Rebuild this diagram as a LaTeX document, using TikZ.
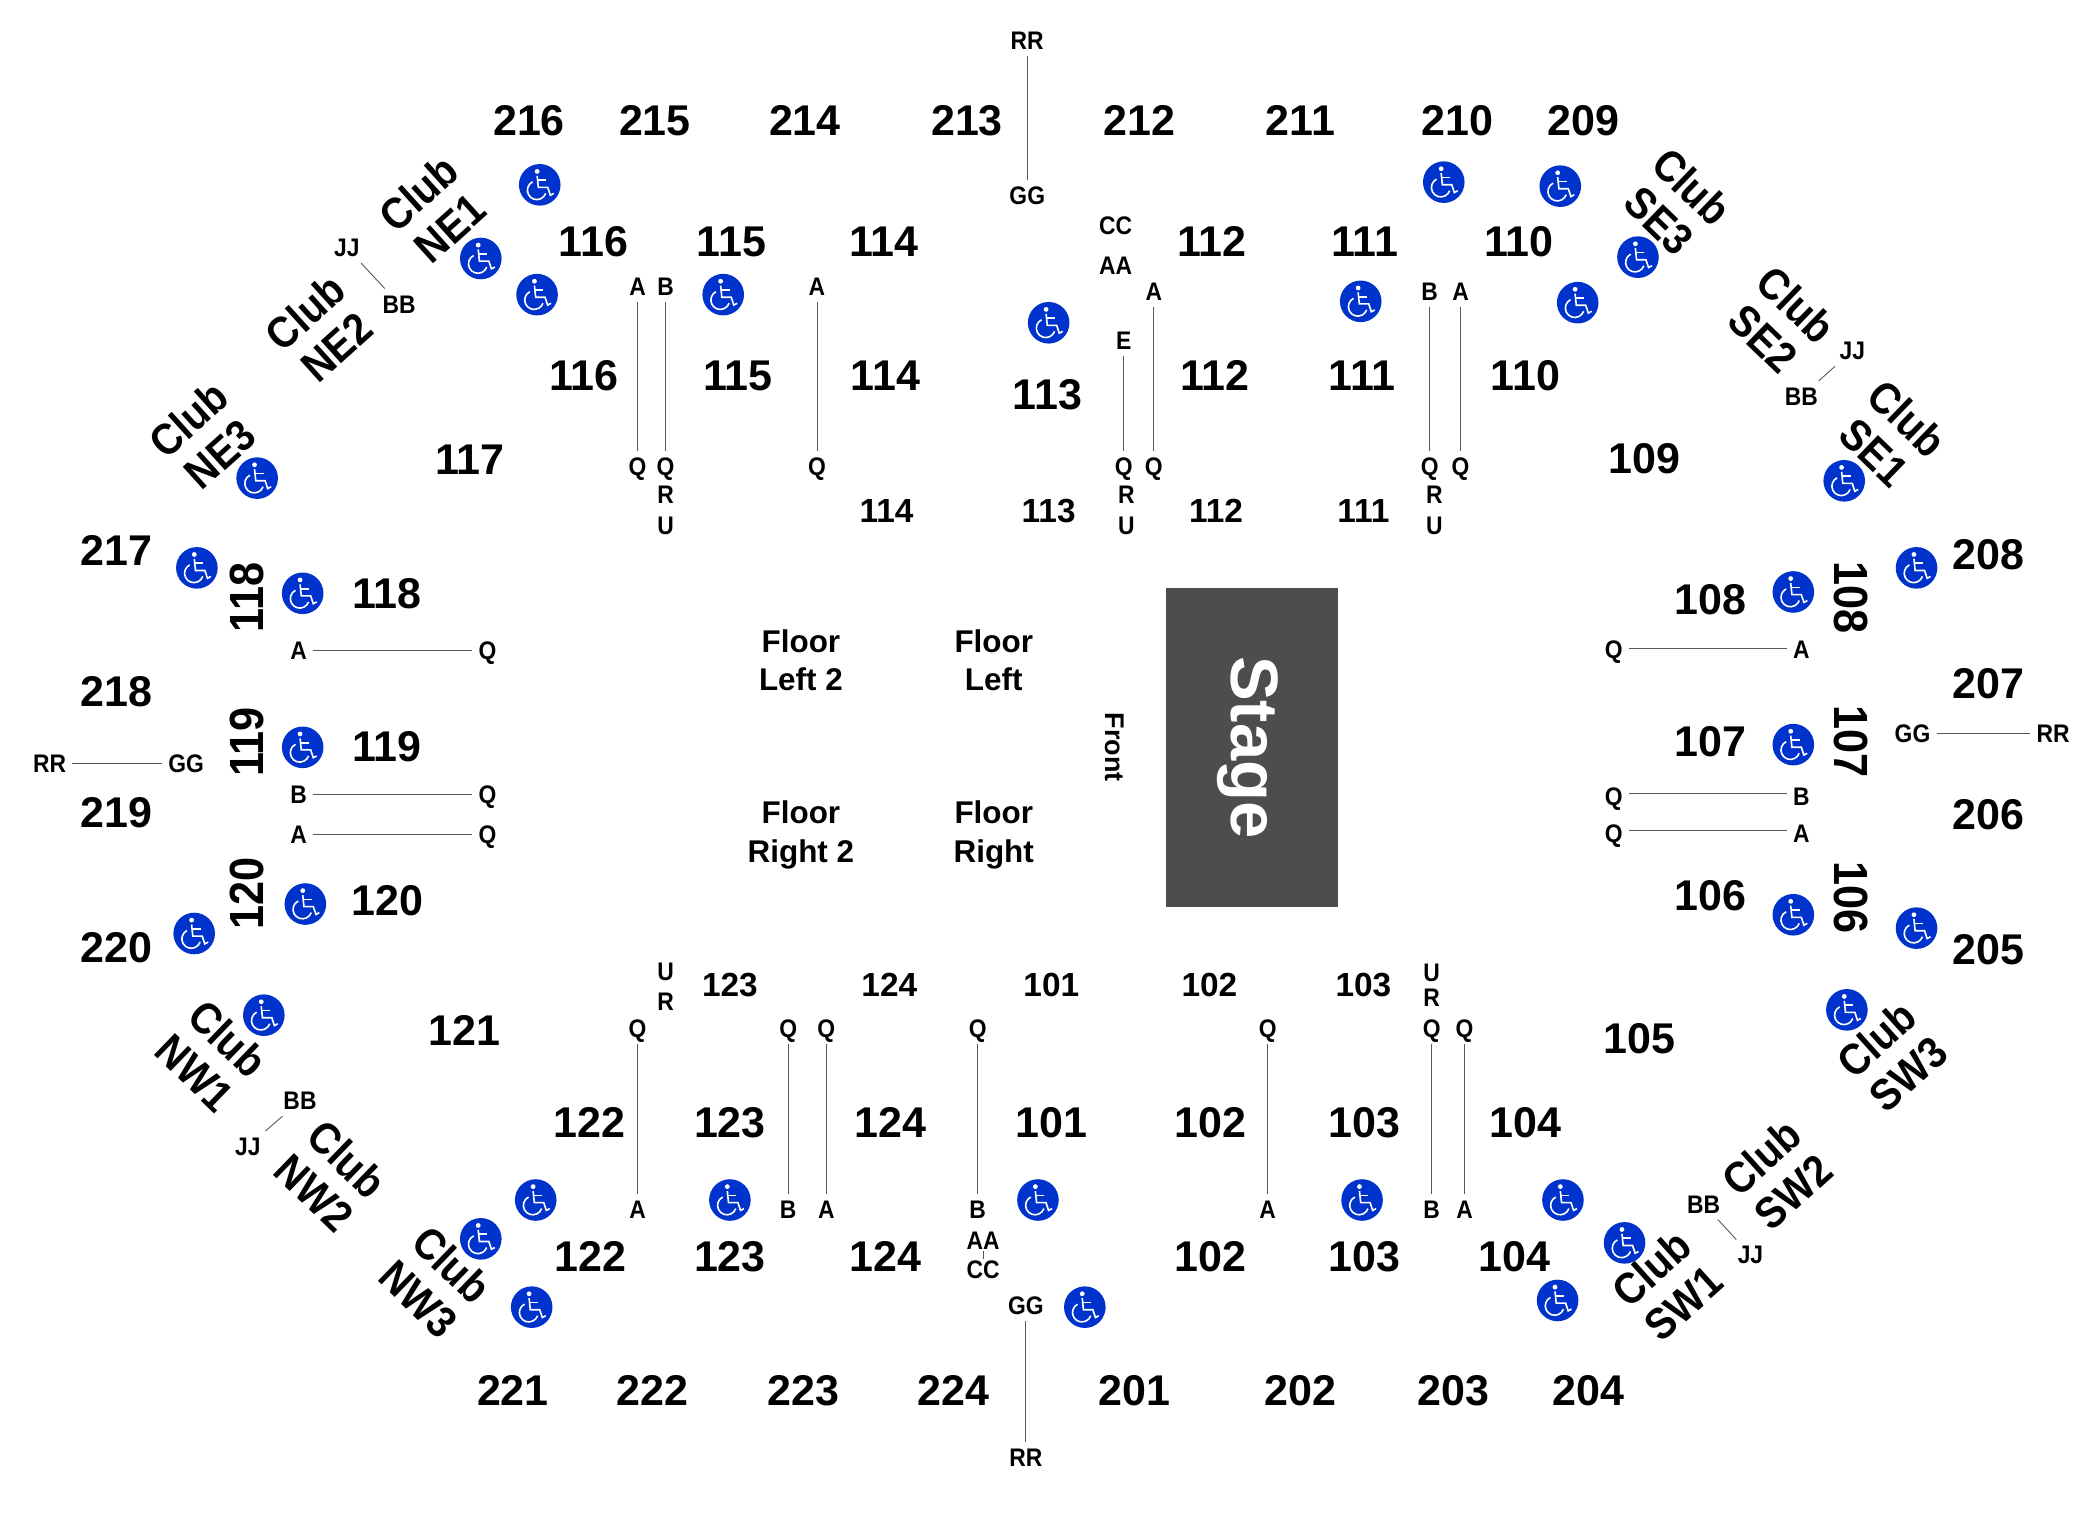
\documentclass[tikz,border=0pt]{standalone}
\usepackage{fontspec}
\setmainfont{Liberation Sans}
\newfontfamily\tallfont[FakeStretch=0.9]{Liberation Sans}
\usepackage{tikz}
\definecolor{wcblue}{HTML}{0033CC}
\definecolor{stagegray}{HTML}{4D4D4D}
\tikzstyle{seclabel} = [inner sep=0pt, text height=15.4pt, text depth=0pt,
    font={\fontsize{21.5}{24}\selectfont\bfseries}]
\tikzstyle{sidesec} = [inner sep=0pt, text height=17.3pt, text depth=0pt,
    font={\tallfont\fontsize{24}{26}\selectfont\bfseries}]
\tikzstyle{smallsec} = [inner sep=0pt, text height=12pt, text depth=0pt,
    font={\fontsize{16.7}{20}\selectfont\bfseries}]
\tikzstyle{club} = [inner sep=0pt, align=center,
    font={\tallfont\fontsize{22}{23.6}\selectfont\bfseries}]
\tikzstyle{floorlabel} = [inner sep=0pt, align=center,
    font={\fontsize{15.7}{19.4}\selectfont\bfseries}]
\tikzstyle{rowlabel} = [inner sep=3pt, text height=9pt, text depth=0pt,
    font={\tallfont\fontsize{12.7}{14}\selectfont\bfseries}]
\tikzstyle{rowline} = [draw, black!65, line width=0.45pt]
\tikzstyle{stagebox} = [rectangle, fill=stagegray, rotate=-90,
    minimum width=159.6pt, minimum height=86pt]
\tikzstyle{stagename} = [text=white, rotate=-90, inner sep=0pt,
    font={\fontsize{33.5}{36}\selectfont\bfseries}]
\tikzstyle{access} = [circle, fill=wcblue, minimum size=20.8pt, inner sep=0pt,
    path picture={
      \begin{scope}[shift={(path picture bounding box.center)}, x=1pt, y=1pt,
          white, line width=0.8pt]
        \fill (-1.3,6.7) circle (1.2);
        \draw (-1.3,4.5) -- (-0.7,-1.3) -- (4,-1.3) -- (5.3,-5.2) -- (7,-4.3);
        \draw (-1.3,2.3) -- (3.2,2.3);
        \draw (-3.6,1.5) arc[start angle=117, end angle=340, radius=4.7];
      \end{scope}
    }]

\begin{document}
\begin{tikzpicture}[x=0.6696pt, y=-0.6696pt]
    \useasboundingbox (0,0) rectangle (1568,1135);

    % Stage
    \node [stagebox] (stage) at (935,558) {};
    \node [stagename] (stagetext) at (932,558) {Stage};
    \node [rowlabel, rotate=-90, font={\fontsize{13.5}{15}\selectfont\bfseries}] (front) at (832,558) {Front};

    % Floor
    \node [floorlabel] (floorL2) at (598,493) {Floor\\Left 2};
    \node [floorlabel] (floorL) at (742,493) {Floor\\Left};
    \node [floorlabel] (floorR2) at (598,623.5) {Floor\\Right 2};
    \node [floorlabel] (floorR) at (742,623.5) {Floor\\Right};

    % Upper level
    \node [seclabel] (s216) at (395,90) {216};
    \node [seclabel] (s215) at (489,90) {215};
    \node [seclabel] (s214) at (601,90) {214};
    \node [seclabel] (s213) at (722,90) {213};
    \node [seclabel] (s212) at (851,90) {212};
    \node [seclabel] (s211) at (971,90) {211};
    \node [seclabel] (s210) at (1088,90) {210};
    \node [seclabel] (s209) at (1182,90) {209};
    \node [seclabel] (s208) at (1485,414) {208};
    \node [seclabel] (s207) at (1485,510) {207};
    \node [seclabel] (s206) at (1485,608) {206};
    \node [seclabel] (s205) at (1485,709) {205};
    \node [seclabel] (s204) at (1186,1038) {204};
    \node [seclabel] (s203) at (1085,1038) {203};
    \node [seclabel] (s202) at (971,1038) {202};
    \node [seclabel] (s201) at (847,1038) {201};
    \node [seclabel] (s224) at (712,1038) {224};
    \node [seclabel] (s223) at (600,1038) {223};
    \node [seclabel] (s222) at (487,1038) {222};
    \node [seclabel] (s221) at (383,1038) {221};
    \node [seclabel] (s220) at (87,707) {220};
    \node [seclabel] (s219) at (87,606) {219};
    \node [seclabel] (s218) at (87,516) {218};
    \node [seclabel] (s217) at (87,411) {217};

    % Lower level, top
    \node [seclabel] (s116a) at (443,180) {116};
    \node [seclabel] (s115a) at (546,180) {115};
    \node [seclabel] (s114a) at (660,180) {114};
    \node [seclabel] (s112a) at (905,180) {112};
    \node [seclabel] (s111a) at (1019,180) {111};
    \node [seclabel] (s110a) at (1134,180) {110};
    \node [seclabel] (s116b) at (436,280) {116};
    \node [seclabel] (s115b) at (551,280) {115};
    \node [seclabel] (s114b) at (661,280) {114};
    \node [seclabel] (s113a) at (782,294) {113};
    \node [seclabel] (s112b) at (907,280) {112};
    \node [seclabel] (s111b) at (1017,280) {111};
    \node [seclabel] (s110b) at (1139,280) {110};
    \node [seclabel] (s117) at (351,343) {117};
    \node [seclabel] (s109) at (1228,342) {109};
    \node [smallsec] (s114c) at (662,381) {114};
    \node [smallsec] (s113b) at (783,381) {113};
    \node [smallsec] (s112c) at (908,381) {112};
    \node [smallsec] (s111c) at (1018,381) {111};

    % Lower level, sides
    \node [sidesec, rotate=90] (s118a) at (184,446) {118};
    \node [seclabel] (s118b) at (289,443) {118};
    \node [sidesec, rotate=90] (s119a) at (184,554) {119};
    \node [seclabel] (s119b) at (289,557) {119};
    \node [sidesec, rotate=90] (s120a) at (184,667) {120};
    \node [seclabel] (s120b) at (289,672) {120};
    \node [seclabel] (s108a) at (1277,447) {108};
    \node [sidesec, rotate=-90] (s108b) at (1383,446) {108};
    \node [seclabel] (s107a) at (1277,553) {107};
    \node [sidesec, rotate=-90] (s107b) at (1383,554) {107};
    \node [seclabel] (s106a) at (1277,668) {106};
    \node [sidesec, rotate=-90] (s106b) at (1383,670) {106};

    % Lower level, bottom
    \node [smallsec] (s123a) at (545,735) {123};
    \node [smallsec] (s124a) at (664,735) {124};
    \node [smallsec] (s101a) at (785,735) {101};
    \node [smallsec] (s102a) at (903,735) {102};
    \node [smallsec] (s103a) at (1018,735) {103};
    \node [seclabel] (s121) at (347,769) {121};
    \node [seclabel] (s105) at (1224,775) {105};
    \node [seclabel] (s122b) at (440,838) {122};
    \node [seclabel] (s123b) at (545,838) {123};
    \node [seclabel] (s124b) at (665,838) {124};
    \node [seclabel] (s101b) at (785,838) {101};
    \node [seclabel] (s102b) at (904,838) {102};
    \node [seclabel] (s103b) at (1019,838) {103};
    \node [seclabel] (s104b) at (1139,838) {104};
    \node [seclabel] (s122c) at (441,938) {122};
    \node [seclabel] (s123c) at (545,938) {123};
    \node [seclabel] (s124c) at (661,938) {124};
    \node [seclabel] (s102c) at (904,938) {102};
    \node [seclabel] (s103c) at (1019,938) {103};
    \node [seclabel] (s104c) at (1131,938) {104};

    % Clubs
    \node [club, rotate=42] (ne1) at (324,157) {Club\\NE1};
    \node [club, rotate=42] (ne2) at (239.5,246) {Club\\NE2};
    \node [club, rotate=42] (ne3) at (152.5,326) {Club\\NE3};
    \node [club, rotate=-44] (se3) at (1251,152) {Club\\SE3};
    \node [club, rotate=-44] (se2) at (1329,240) {Club\\SE2};
    \node [club, rotate=-44] (se1) at (1412,325) {Club\\SE1};
    \node [club, rotate=-44] (nw1) at (158,788) {Club\\NW1};
    \node [club, rotate=-44] (nw2) at (247,878) {Club\\NW2};
    \node [club, rotate=-44] (nw3) at (325,957) {Club\\NW3};
    \node [club, rotate=42] (sw3) at (1413,789) {Club\\SW3};
    \node [club, rotate=42] (sw2) at (1327,877) {Club\\SW2};
    \node [club, rotate=42] (sw1) at (1245,960) {Club\\SW1};

    % Row labels
    \node [rowlabel] (rrN) at (767,30) {RR};
    \node [rowlabel] (ggN) at (767,146) {GG};
    \node [rowlabel] (ccN) at (833,168) {CC};
    \node [rowlabel] (aaN) at (833,198) {AA};
    \node [rowlabel] (a112) at (861.5,218) {A};
    \node [rowlabel] (e113) at (839,254) {E};
    \node [rowlabel] (q113) at (839,348) {Q};
    \node [rowlabel] (q112) at (861.5,348) {Q};
    \node [rowlabel] (r113) at (841,369) {R};
    \node [rowlabel] (u113) at (841,392) {U};
    \node [rowlabel] (a116) at (476,214) {A};
    \node [rowlabel] (b115) at (497,214) {B};
    \node [rowlabel] (q116) at (476,348) {Q};
    \node [rowlabel] (q115) at (497,348) {Q};
    \node [rowlabel] (r115) at (497,369) {R};
    \node [rowlabel] (u115) at (497,392) {U};
    \node [rowlabel] (a114) at (610,214) {A};
    \node [rowlabel] (q114) at (610,348) {Q};
    \node [rowlabel] (b111) at (1067.5,218) {B};
    \node [rowlabel] (a110) at (1090.5,218) {A};
    \node [rowlabel] (q111) at (1067.5,348) {Q};
    \node [rowlabel] (q110) at (1090.5,348) {Q};
    \node [rowlabel] (r111) at (1071,369) {R};
    \node [rowlabel] (u111) at (1071,392) {U};
    \node [rowlabel] (a118) at (223,486) {A};
    \node [rowlabel] (q118) at (364,486) {Q};
    \node [rowlabel] (b119) at (223,593) {B};
    \node [rowlabel] (q119) at (364,593) {Q};
    \node [rowlabel] (a120) at (223,623) {A};
    \node [rowlabel] (q120) at (364,623) {Q};
    \node [rowlabel] (rrW) at (37,570) {RR};
    \node [rowlabel] (ggW) at (139,570) {GG};
    \node [rowlabel] (q108) at (1205,485) {Q};
    \node [rowlabel] (a108) at (1345,485) {A};
    \node [rowlabel] (q107) at (1205,595) {Q};
    \node [rowlabel] (b107) at (1345,595) {B};
    \node [rowlabel] (q106) at (1205,622) {Q};
    \node [rowlabel] (a106) at (1345,622) {A};
    \node [rowlabel] (ggE) at (1428,548) {GG};
    \node [rowlabel] (rrE) at (1533,548) {RR};
    \node [rowlabel] (jjNE) at (259,185) {JJ};
    \node [rowlabel] (bbNE) at (298,227) {BB};
    \node [rowlabel] (jjSE) at (1383,262) {JJ};
    \node [rowlabel] (bbSE) at (1345,296) {BB};
    \node [rowlabel] (bbNW) at (224,822) {BB};
    \node [rowlabel] (jjNW) at (185,856) {JJ};
    \node [rowlabel] (bbSW) at (1272,899) {BB};
    \node [rowlabel] (jjSW) at (1307,937) {JJ};
    \node [rowlabel] (u122) at (497,725) {U};
    \node [rowlabel] (r122) at (497,748) {R};
    \node [rowlabel] (q122) at (476,768) {Q};
    \node [rowlabel] (a122) at (476,903) {A};
    \node [rowlabel] (q123) at (588.5,768) {Q};
    \node [rowlabel] (b123) at (588.5,903) {B};
    \node [rowlabel] (q124) at (617,768) {Q};
    \node [rowlabel] (a124) at (617,903) {A};
    \node [rowlabel] (q101) at (730,768) {Q};
    \node [rowlabel] (b101) at (730,903) {B};
    \node [rowlabel] (aaS) at (734,926) {AA};
    \node [rowlabel] (ccS) at (734,948) {CC};
    \node [rowlabel] (ggS) at (766,975) {GG};
    \node [rowlabel] (rrS) at (766,1088) {RR};
    \node [rowlabel] (q102) at (946.5,768) {Q};
    \node [rowlabel] (a102) at (946.5,903) {A};
    \node [rowlabel] (u103) at (1069,726) {U};
    \node [rowlabel] (r103) at (1069,745) {R};
    \node [rowlabel] (q103) at (1069,768) {Q};
    \node [rowlabel] (b103) at (1069,903) {B};
    \node [rowlabel] (q104) at (1093.5,768) {Q};
    \node [rowlabel] (a104) at (1093.5,903) {A};

    % Draw row lines
    \path [rowline] (rrN) -- (ggN);
    \path [rowline] (a112) -- (q112);
    \path [rowline] (e113) -- (q113);
    \path [rowline] (a116) -- (q116);
    \path [rowline] (b115) -- (q115);
    \path [rowline] (a114) -- (q114);
    \path [rowline] (b111) -- (q111);
    \path [rowline] (a110) -- (q110);
    \path [rowline] (a118) -- (q118);
    \path [rowline] (b119) -- (q119);
    \path [rowline] (a120) -- (q120);
    \path [rowline] (rrW) -- (ggW);
    \path [rowline] ([yshift=0.8pt]q108.east) -- ([yshift=0.8pt]a108.west);
    \path [rowline] ([yshift=1.5pt]q107.east) -- ([yshift=1.5pt]b107.west);
    \path [rowline] ([yshift=1.3pt]q106.east) -- ([yshift=1.3pt]a106.west);
    \path [rowline] (ggE) -- (rrE);
    \path [rowline] (jjNE) -- (bbNE);
    \path [rowline] (jjSE) -- (bbSE);
    \path [rowline] (bbNW) -- (jjNW);
    \path [rowline] (bbSW) -- (jjSW);
    \path [rowline] (q122) -- (a122);
    \path [rowline] (q123) -- (b123);
    \path [rowline] (q124) -- (a124);
    \path [rowline] (q101) -- (b101);
    \path [rowline, shorten <=-1.5pt, shorten >=-1.5pt] (aaS) -- (ccS);
    \path [rowline] (ggS) -- (rrS);
    \path [rowline] (q102) -- (a102);
    \path [rowline] (q103) -- (b103);
    \path [rowline] (q104) -- (a104);

    % Accessible seating
    \node [access] (wc1) at (403,138) {};
    \node [access] (wc2) at (359,193) {};
    \node [access] (wc3) at (401,220) {};
    \node [access] (wc4) at (540,220) {};
    \node [access] (wc5) at (783,241) {};
    \node [access] (wc6) at (1016,225) {};
    \node [access] (wc7) at (1078,136) {};
    \node [access] (wc8) at (1165,139) {};
    \node [access] (wc9) at (1223,192) {};
    \node [access] (wc10) at (1178,226) {};
    \node [access] (wc11) at (192,357) {};
    \node [access] (wc12) at (147,424) {};
    \node [access] (wc13) at (226,443) {};
    \node [access] (wc14) at (226,558) {};
    \node [access] (wc15) at (228,675) {};
    \node [access] (wc16) at (145,697) {};
    \node [access] (wc17) at (197,758) {};
    \node [access] (wc18) at (400,896) {};
    \node [access] (wc19) at (359,925) {};
    \node [access] (wc20) at (397,976) {};
    \node [access] (wc21) at (545,896) {};
    \node [access] (wc22) at (775,896) {};
    \node [access] (wc23) at (810,976) {};
    \node [access] (wc24) at (1017,896) {};
    \node [access] (wc25) at (1167,896) {};
    \node [access] (wc26) at (1213,928) {};
    \node [access] (wc27) at (1163,971) {};
    \node [access] (wc28) at (1339,442) {};
    \node [access] (wc29) at (1431,424) {};
    \node [access] (wc30) at (1339,556) {};
    \node [access] (wc31) at (1339,683) {};
    \node [access] (wc32) at (1431,693) {};
    \node [access] (wc33) at (1379,754) {};
    \node [access] (wc34) at (1377,359) {};
\end{tikzpicture}
\end{document}
